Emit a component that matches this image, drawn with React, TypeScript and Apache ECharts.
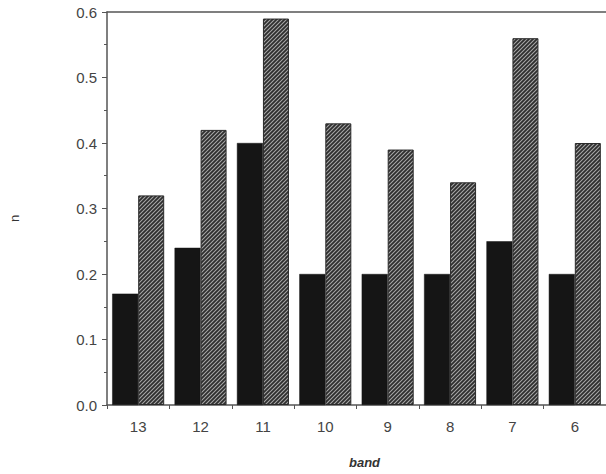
import React, { useEffect, useRef } from "react";
import * as echarts from "echarts";

const categories = ["13", "12", "11", "10", "9", "8", "7", "6"];
const seriesA = [0.17, 0.24, 0.4, 0.2, 0.2, 0.2, 0.25, 0.2];
const seriesB = [0.32, 0.42, 0.59, 0.43, 0.39, 0.34, 0.56, 0.4];

const hatchSvg =
  "<svg xmlns='http://www.w3.org/2000/svg' width='4' height='4'>" +
  "<rect width='4' height='4' fill='#a8a8a8'/>" +
  "<path d='M-1,1 L1,-1 M0,4 L4,0 M3,5 L5,3' stroke='#2e2e2e' stroke-width='1.8'/></svg>";
const hatchUrl = "data:image/svg+xml;charset=utf-8," + encodeURIComponent(hatchSvg);

export default function App() {
  const ref = useRef<HTMLDivElement>(null);
  useEffect(() => {
    if (!ref.current) return;
    const chart = echarts.init(ref.current, null, { renderer: "svg" });
    const font = "'Liberation Sans', Arial, Helvetica, sans-serif";
    chart.setOption({
      animation: false,
      backgroundColor: "#ffffff",
      grid: { left: 100, right: 0, top: 12, bottom: 68, containLabel: false },
      xAxis: [
        {
          type: "category",
          data: categories,
          name: "band",
          nameLocation: "middle",
          nameGap: 51,
          nameTextStyle: {
            fontFamily: font,
            fontStyle: "italic",
            fontWeight: "bold",
            fontSize: 13,
            color: "#333",
            padding: [0, 0, 0, 16],
          },
          axisLine: { lineStyle: { color: "#555", width: 1.5 } },
          axisTick: { show: true, length: 4, lineStyle: { color: "#555" } },
          axisLabel: {
            fontFamily: font,
            fontSize: 15,
            color: "#444",
            margin: 14,
          },
        },
        {
          type: "category",
          data: categories,
          position: "top",
          axisLine: { show: true, lineStyle: { color: "#555", width: 1.5 } },
          axisTick: { show: false },
          axisLabel: { show: false },
        },
      ],
      yAxis: {
        type: "value",
        min: 0,
        max: 0.6,
        interval: 0.1,
        name: "n",
        nameLocation: "middle",
        nameGap: 86,
        nameRotate: 90,
        nameTextStyle: { fontFamily: font, fontSize: 13, color: "#333", padding: [0, 0, 0, -20] },
        axisLine: { show: true, lineStyle: { color: "#555", width: 1.5 } },
        axisTick: { show: true, length: 5, lineStyle: { color: "#555" } },
        minorTick: { show: true, splitNumber: 2, length: 3, lineStyle: { color: "#555" } },
        splitLine: { show: false },
        axisLabel: {
          fontFamily: font,
          fontSize: 15,
          color: "#444",
          margin: 10,
          formatter: (v: number) => v.toFixed(1),
        },
      },
      series: [
        {
          type: "bar",
          data: seriesA,
          barWidth: 26,
          barGap: "0%",
          itemStyle: { color: "#151515", borderColor: "#151515", borderWidth: 0.5 },
        },
        {
          type: "bar",
          data: seriesB,
          barWidth: 26,
          barGap: "0%",
          itemStyle: {
            color: { image: hatchUrl, repeat: "repeat" },
            borderColor: "#2a2a2a",
            borderWidth: 1,
          },
        },
      ],
    });
    return () => chart.dispose();
  }, []);
  return (
    <div
      ref={ref}
      style={{ position: "fixed", left: 0, top: 0, width: 606, height: 474 }}
    />
  );
}
